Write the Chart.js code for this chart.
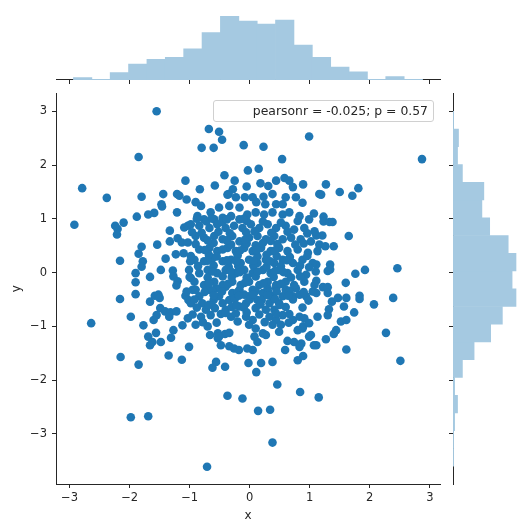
<!DOCTYPE html>
<html><head><meta charset="utf-8">
<script src="https://cdn.jsdelivr.net/npm/chart.js@4"></script>
<style>
html,body{margin:0;padding:0;background:#fff;}
#wrap{position:relative;width:525px;height:529px;overflow:hidden;}
#wrap canvas{position:absolute;left:0;top:0;}
#legend{position:absolute;left:213px;top:100px;width:221px;height:22px;box-sizing:border-box;border:1px solid #d0d0d0;border-radius:3px;background:rgba(255,255,255,0.8);font-family:"DejaVu Sans";font-size:12.4px;color:#262626;text-align:right;line-height:20px;padding-right:5px;z-index:5;white-space:nowrap;}
</style></head>
<body>
<div id="wrap">
<canvas id="main" width="525" height="529"></canvas>
<canvas id="topHist" width="525" height="529"></canvas>
<canvas id="rightHist" width="525" height="529"></canvas>
<div id="legend">pearsonr = -0.025; p = 0.57</div>
</div>
<script>
// ---- data ----
const xTicks = [-3,-2,-1,0,1,2,3];
const yTicks = [-3,-2,-1,0,1,2,3];

const xBinEdges = [-2.935,-2.629,-2.323,-2.017,-1.711,-1.405,-1.099,-0.793,-0.487,-0.181,0.125,0.431,0.737,1.043,1.349,1.655,1.961,2.267,2.573,2.879];
const xCounts = [3,1,8,17,22,24,33,50,67,62,59,63,37,24,14,9,1,4,1];

const yBinEdges = [-3.60,-3.27,-2.94,-2.61,-2.28,-1.95,-1.62,-1.29,-0.96,-0.63,-0.30,0.03,0.36,0.69,1.02,1.35,1.68,2.01,2.34,2.67,3.00];
const yCounts = [1,1,2,5,2,10,22,39,51,65,61,65,57,38,30,32,10,5,6,1];

const ptsUpperLeft = [[-1.55,3.00],[-1.85,2.15],[-2.79,1.57],[-2.38,1.39],[-1.80,1.41],[-1.07,1.71],[-1.44,1.46],[-1.21,1.46],[-1.17,1.43],[-1.05,1.36],[-1.47,1.27],[-1.46,1.23],[-1.59,1.11],[-1.69,1.08],[-1.88,1.04],[-1.21,1.12],[-2.92,0.89],[-2.24,0.87],[-2.10,0.93],[-2.20,0.81],[-2.21,0.71],[-1.33,0.78],[-1.09,0.84],[-1.03,0.87],[-1.20,0.64],[-1.13,0.56],[-1.03,0.56],[-1.33,0.58],[-1.54,0.52],[-1.80,0.48],[-1.85,0.35],[-1.78,0.21],[-1.80,0.11],[-1.90,-0.01],[-1.90,-0.18],[-2.16,0.22],[-1.40,0.26],[-1.23,0.34],[-1.10,0.36],[-0.99,0.21],[-1.48,0.05],[-1.66,-0.08],[-1.28,0.04],[-1.27,-0.07],[-1.20,-0.16],[-1.22,-0.24],[-0.98,-0.10]];
const ptsLowerLeft = [[-2.16,-0.49],[-1.90,-0.40],[-1.66,-0.54],[-1.58,-0.43],[-1.52,-0.41],[-1.50,-0.47],[-1.07,-0.43],[-1.02,-0.51],[-0.98,-0.54],[-2.64,-0.94],[-1.98,-0.82],[-1.77,-0.98],[-1.49,-0.66],[-1.41,-0.72],[-1.32,-0.74],[-1.22,-0.72],[-1.34,-0.82],[-1.55,-0.79],[-1.60,-0.88],[-1.03,-0.85],[-1.12,-0.98],[-1.27,-1.07],[-1.31,-1.21],[-1.56,-1.12],[-1.69,-1.19],[-1.62,-1.29],[-1.66,-1.35],[-1.48,-1.29],[-1.01,-1.38],[-2.15,-1.57],[-1.85,-1.71],[-1.35,-1.54],[-1.13,-1.62],[-1.98,-2.69],[-1.69,-2.67]];
const ptsTop = [[-0.68,2.67],[-0.51,2.62],[-0.46,2.47],[-0.80,2.32],[-0.60,2.32],[-0.10,2.37],[0.23,2.34],[0.99,2.53],[0.54,2.11],[-0.03,1.90],[0.15,1.93],[-0.42,1.81],[-0.25,1.71],[-0.58,1.62],[-0.83,1.55],[0.18,1.66],[0.31,1.61],[0.44,1.71],[0.58,1.76],[0.66,1.71],[0.72,1.59],[0.89,1.64],[-0.05,1.60],[-0.28,1.55],[-0.35,1.46],[-0.23,1.40],[-0.37,1.45],[0.23,1.41],[0.38,1.46],[0.26,1.27],[0.44,1.27],[0.05,1.40],[0.11,1.31],[-0.08,1.40],[1.16,1.46],[1.07,1.10],[-0.90,1.31],[-0.81,1.24]];
const ptsRight = [[2.87,2.11],[1.27,1.64],[1.19,1.45],[1.50,1.50],[1.71,1.43],[1.81,1.57],[1.23,1.04],[1.23,0.95],[1.33,0.94],[1.38,0.94],[1.21,0.69],[1.11,0.69],[1.65,0.68],[1.16,0.52],[1.26,0.49],[1.40,0.49],[1.34,0.15],[1.34,0.06],[1.30,0.03],[1.11,0.15],[1.76,-0.02],[1.92,0.05],[2.46,0.08],[1.60,-0.19],[1.11,-0.15],[1.22,-0.27],[1.30,-0.27],[1.30,-0.38],[1.11,-0.38],[1.37,-0.54],[1.47,-0.47],[1.61,-0.47],[1.57,-0.63],[1.83,-0.43],[1.83,-0.49],[2.07,-0.59],[2.39,-0.47],[1.32,-0.68],[1.30,-0.79],[1.13,-0.82],[1.74,-0.74],[1.52,-0.91],[1.61,-0.88],[1.44,-1.07],[1.40,-1.14],[1.27,-1.24],[1.11,-1.35],[1.61,-1.43],[2.27,-1.12],[2.51,-1.64],[1.15,-2.32]];
const ptsBottom = [[-0.62,-1.77],[-0.56,-1.66],[-0.41,-1.75],[-0.02,-1.68],[0.19,-1.68],[0.11,-1.85],[0.38,-1.66],[0.59,-1.44],[0.80,-1.63],[0.89,-1.55],[0.46,-2.08],[0.84,-2.22],[-0.37,-2.29],[-0.12,-2.34],[0.14,-2.57],[0.34,-2.55],[0.38,-3.16],[-0.71,-3.61],[-0.90,-0.97],[-0.70,-1.00],[-0.66,-1.16],[-0.53,-1.22],[-0.48,-1.35],[-0.53,-1.13],[-0.41,-1.14],[-0.34,-1.12],[-0.34,-1.37],[-0.26,-1.41],[-0.18,-1.44],[0.63,-1.27],[0.74,-1.29],[0.86,-1.32],[0.83,-1.38],[0.99,-1.19],[1.07,-1.35],[0.89,-1.00]];
const ptsCoreLow = [[-0.95,-0.32],[-0.84,-0.44],[-0.98,-0.57],[-0.79,-0.57],[-0.73,-0.69],[-0.81,-0.82],[-0.51,-0.44],[-0.45,-0.57],[-0.34,-0.51],[-0.29,-0.38],[-0.40,-0.69],[-0.31,-0.82],[-0.23,-0.76],[-0.17,-0.63],[-0.06,-0.57],[-0.01,-0.44],[0.05,-0.32],[0.13,-0.51],[0.22,-0.38],[0.30,-0.29],[0.38,-0.44],[0.33,-0.57],[0.41,-0.69],[0.49,-0.57],[0.55,-0.44],[0.60,-0.32],[0.72,-0.44],[0.83,-0.41],[0.94,-0.44],[1.05,-0.35],[-0.06,-0.82],[0.05,-0.88],[-0.01,-0.97],[0.10,-1.04],[0.22,-1.13],[0.27,-1.16],[0.08,-1.19],[0.13,-1.29],[0.05,-1.44],[-0.04,-1.41],[0.27,-0.69],[0.33,-0.82],[0.44,-0.88],[0.52,-0.97],[0.49,-1.10],[0.38,-0.97],[0.72,-0.88],[0.83,-0.82],[0.91,-0.85],[0.99,-0.94],[0.88,-1.04],[0.80,-1.07],[1.02,-1.16],[-0.51,-1.19],[-0.90,-0.32],[-0.67,-0.32],[-0.56,-0.29],[-0.40,-0.26],[-0.17,-0.32],[-0.09,-0.41],[0.44,-0.29],[0.77,-0.29]];
const ptsCoreHigh = [[0.55,1.27],[0.60,1.40],[0.77,1.40],[0.88,1.30],[-0.17,1.21],[-0.34,1.24],[-0.51,1.21],[-0.65,1.12],[-0.87,1.05],[-0.76,0.99],[-0.59,0.99],[-0.45,1.02],[-0.31,1.05],[-0.17,0.99],[-0.04,1.08],[0.10,1.12],[0.24,1.08],[0.38,1.12],[0.55,1.08],[0.66,1.12],[0.83,1.05],[0.99,0.99],[-0.98,0.90],[-0.84,0.87],[-0.67,0.83],[-0.54,0.90],[-0.40,0.83],[-0.26,0.87],[-0.12,0.83],[0.02,0.90],[0.16,0.83],[0.30,0.90],[0.44,0.83],[0.60,0.87],[0.74,0.80],[0.91,0.83],[1.08,0.77],[-0.90,0.68],[-0.76,0.65],[-0.59,0.68],[-0.45,0.62],[-0.29,0.68],[-0.17,0.58],[-0.01,0.65],[0.13,0.68],[0.27,0.62],[0.41,0.68],[0.55,0.62],[0.69,0.65],[0.85,0.62],[1.02,0.58],[-0.84,0.43],[-0.67,0.46],[-0.54,0.40],[-0.37,0.46],[-0.23,0.40],[-0.09,0.46],[0.05,0.40],[0.19,0.46],[0.35,0.40],[0.49,0.46],[0.63,0.40],[0.80,0.43],[0.97,0.37],[1.13,0.40],[-0.92,0.24],[-0.76,0.21],[-0.62,0.27],[-0.45,0.21],[-0.31,0.24],[-0.15,0.18],[-0.01,0.24],[0.13,0.18],[0.27,0.24],[0.41,0.18],[0.55,0.24],[0.72,0.18],[0.88,0.24],[1.05,0.18],[-1.01,0.05],[-0.84,-0.01],[-0.70,0.05],[-0.54,-0.01],[-0.40,0.05],[-0.23,-0.01],[-0.09,0.05],[0.05,-0.01],[0.22,0.05],[0.35,-0.01],[0.49,0.05],[0.63,-0.01],[0.80,0.05],[0.94,-0.04],[1.10,0.02],[-0.92,-0.17],[-0.76,-0.23],[-0.59,-0.17],[-0.45,-0.23],[-0.29,-0.17],[-0.15,-0.23],[-0.01,-0.17],[0.16,-0.23],[0.30,-0.17],[0.44,-0.23],[0.60,-0.17],[0.74,-0.23],[0.91,-0.17],[1.08,-0.23]];
const ptsCoreMid = [[-0.72,0.95],[-0.46,0.94],[-0.05,0.96],[0.22,0.95],[0.52,0.93],[0.80,0.96],[-0.96,0.75],[-0.80,0.74],[-0.52,0.76],[-0.33,0.73],[-0.06,0.75],[0.08,0.77],[0.36,0.74],[0.63,0.76],[0.96,0.73],[-0.90,0.53],[-0.60,0.55],[-0.31,0.52],[-0.05,0.54],[0.10,0.51],[0.22,0.55],[0.46,0.53],[0.76,0.52],[0.90,0.54],[-0.98,0.31],[-0.68,0.33],[-0.55,0.30],[-0.20,0.32],[0.13,0.30],[0.28,0.33],[0.45,0.31],[0.67,0.29],[0.96,0.31],[-0.86,0.12],[-0.60,0.13],[-0.35,0.11],[-0.19,0.12],[0.06,0.13],[0.28,0.11],[0.52,0.12],[0.84,0.13],[0.99,0.10],[-1.00,-0.08],[-0.70,-0.09],[-0.45,-0.07],[-0.30,-0.08],[-0.05,-0.09],[0.10,-0.07],[0.40,-0.08],[0.69,-0.09],[0.84,-0.07],[-1.05,-0.35],[-0.75,-0.36],[-0.62,-0.34],[-0.46,-0.35],[-0.20,-0.36],[0.10,-0.34],[0.31,-0.36],[0.45,-0.35],[0.66,-0.34],[0.90,-0.36],[-0.92,-0.50],[-0.60,-0.51],[-0.25,-0.49],[0.00,-0.50],[0.20,-0.51],[0.42,-0.49],[0.72,-0.50],[0.98,-0.52],[-0.88,-0.65],[-0.58,-0.66],[-0.30,-0.64],[-0.10,-0.65],[0.10,-0.66],[0.60,-0.64],[0.88,-0.65],[-0.95,-0.78],[-0.65,-0.79],[-0.48,-0.77],[0.16,-0.78],[0.55,-0.79],[0.66,-0.77],[-0.78,-0.92],[-0.55,-0.93],[-0.20,-0.91],[0.25,-0.92],[0.65,-0.93]];
const ptsCoreExtra = [[-0.70,0.60],[-0.38,0.60],[-0.08,0.61],[0.35,0.59],[-0.75,0.42],[-0.45,0.43],[-0.16,0.41],[0.12,0.42],[0.42,0.41],[-0.70,0.22],[-0.38,0.23],[-0.22,0.21],[0.06,0.22],[0.34,0.21],[0.62,0.23],[-0.62,0.02],[-0.32,0.03],[-0.16,0.01],[0.13,0.02],[0.42,0.03],[0.56,0.01],[-0.68,-0.20],[-0.36,-0.21],[-0.08,-0.19],[0.23,-0.20],[0.52,-0.21],[-0.60,-0.42],[-0.18,-0.43],[0.06,-0.41],[0.30,-0.42],[0.64,-0.43],[-0.68,-0.60],[-0.22,-0.61],[0.18,-0.59],[0.50,-0.60],[-0.40,-0.75],[-0.05,-0.74],[0.44,-0.76],[-0.88,1.00],[-0.63,1.01],[-0.38,0.99],[-0.10,1.00]];

// ---- layout / style ----
const X_MIN = -3.226, X_MAX = 3.170;
const Y_MIN = -3.93, Y_MAX = 3.33;
const INK = '#262626';
const FONT = 'DejaVu Sans';
const minusFmt = v => (v < 0 ? '\u2212' + Math.abs(v) : String(v));

const allPts = [].concat(ptsUpperLeft, ptsLowerLeft, ptsTop, ptsRight, ptsBottom, ptsCoreLow, ptsCoreHigh, ptsCoreMid, ptsCoreExtra)
  .map(p => ({x: p[0], y: p[1]}));

Chart.defaults.font.family = FONT;
Chart.defaults.color = INK;

const setTicks = arr => s => { s.ticks = arr.map(v => ({value: v})); };

new Chart(document.getElementById('main'), {
  type: 'scatter',
  data: {datasets: [{data: allPts, backgroundColor: '#1f77b4', borderColor: '#1f77b4', borderWidth: 0, pointRadius: 4.3, pointHoverRadius: 4.3}]},
  options: {
    responsive: false, animation: false, devicePixelRatio: 1,
    layout: {padding: {left: 0, top: 93.5, right: 85, bottom: 0}},
    plugins: {legend: {display: false}, tooltip: {enabled: false}},
    scales: {
      x: {type: 'linear', min: X_MIN, max: X_MAX, afterBuildTicks: setTicks(xTicks), afterFit: s => { s.height = 45; },
        grid: {drawOnChartArea: false, drawTicks: true, tickLength: 4, tickColor: INK, tickWidth: 1},
        border: {display: true, color: INK, width: 1},
        ticks: {color: INK, font: {family: FONT, size: 11.5}, padding: 3, maxRotation: 0, autoSkip: false, callback: minusFmt},
        title: {display: true, text: 'x', color: INK, font: {family: FONT, size: 12}, padding: {top: 0, bottom: 6}}},
      y: {type: 'linear', min: Y_MIN, max: Y_MAX, afterBuildTicks: setTicks(yTicks), afterFit: s => { s.width = 56; },
        grid: {drawOnChartArea: false, drawTicks: true, tickLength: 4, tickColor: INK, tickWidth: 1},
        border: {display: true, color: INK, width: 1},
        ticks: {color: INK, font: {family: FONT, size: 11.5}, padding: 5, autoSkip: false, callback: minusFmt},
        title: {display: true, text: 'y', color: INK, font: {family: FONT, size: 12}, padding: {top: 10, bottom: 0}}}
    }
  }
});

const histColor = 'rgb(165,201,225)';

new Chart(document.getElementById('topHist'), {
  type: 'bar',
  data: {datasets: [{data: xCounts.map((c, i) => ({x: (xBinEdges[i] + xBinEdges[i + 1]) / 2, y: c})),
    backgroundColor: histColor, borderWidth: 0, barPercentage: 1.04, categoryPercentage: 1}]},
  options: {
    responsive: false, animation: false, devicePixelRatio: 1,
    layout: {padding: {left: 56, right: 85, top: 12.8, bottom: 445}},
    plugins: {legend: {display: false}, tooltip: {enabled: false}},
    scales: {
      x: {type: 'linear', min: X_MIN, max: X_MAX, offset: false, afterBuildTicks: setTicks(xTicks), afterFit: s => { s.height = 4; },
        grid: {offset: false, drawOnChartArea: false, drawTicks: true, tickLength: 4, tickColor: INK, tickWidth: 1},
        border: {display: true, color: INK, width: 1},
        ticks: {display: false}},
      y: {type: 'linear', min: 0, max: 70.35, display: false}
    }
  }
});

new Chart(document.getElementById('rightHist'), {
  type: 'bar',
  data: {datasets: [{data: yCounts.map((c, i) => ({y: (yBinEdges[i] + yBinEdges[i + 1]) / 2, x: c})),
    backgroundColor: histColor, borderWidth: 0, barPercentage: 1.04, categoryPercentage: 1}]},
  options: {
    indexAxis: 'y',
    responsive: false, animation: false, devicePixelRatio: 1,
    layout: {padding: {left: 449, right: 5.5, top: 93.5, bottom: 45}},
    plugins: {legend: {display: false}, tooltip: {enabled: false}},
    scales: {
      y: {type: 'linear', position: 'left', min: Y_MIN, max: Y_MAX, offset: false, afterBuildTicks: setTicks(yTicks), afterFit: s => { s.width = 4; },
        grid: {offset: false, drawOnChartArea: false, drawTicks: true, tickLength: 4, tickColor: INK, tickWidth: 1},
        border: {display: true, color: INK, width: 1},
        ticks: {display: false}},
      x: {type: 'linear', min: 0, max: 68.25, display: false}
    }
  }
});
</script>
</body></html>
